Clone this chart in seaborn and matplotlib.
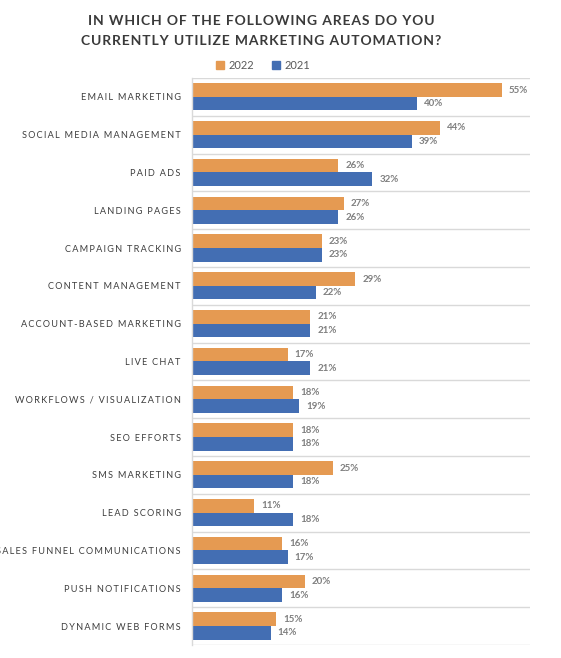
import numpy as np
import pandas as pd
import matplotlib
matplotlib.use("Agg")
import matplotlib.pyplot as plt
import seaborn as sns

# data
areas = [
    "EMAIL MARKETING", "SOCIAL MEDIA MANAGEMENT", "PAID ADS", "LANDING PAGES",
    "CAMPAIGN TRACKING", "CONTENT MANAGEMENT", "ACCOUNT-BASED MARKETING",
    "LIVE CHAT", "WORKFLOWS / VISUALIZATION", "SEO EFFORTS", "SMS MARKETING",
    "LEAD SCORING", "SALES FUNNEL COMMUNICATIONS", "PUSH NOTIFICATIONS",
    "DYNAMIC WEB FORMS",
]
pct_2022 = [55, 44, 26, 27, 23, 29, 21, 17, 18, 18, 25, 11, 16, 20, 15]
pct_2021 = [40, 39, 32, 26, 23, 22, 21, 21, 19, 18, 18, 18, 17, 16, 14]
years = ["2022", "2021"]
colors = {"2022": "#E59A52", "2021": "#436EB3"}

HS = "\u200a"  # hair space, used to fake letter spacing


def track(s, sep=HS):
    return sep.join(list(s))


df = pd.DataFrame({
    "area": areas * 2,
    "year": ["2022"] * len(areas) + ["2021"] * len(areas),
    "pct": pct_2022 + pct_2021,
})

sns.set_style("white")
plt.rcParams["font.family"] = ["Lato", "DejaVu Sans"]

fig = plt.figure(figsize=(5.61, 6.58), dpi=100)
ax = fig.add_axes([0.342, 0.0198, 0.603, 0.8617])

sns.barplot(data=df, y="area", x="pct", hue="year", hue_order=years,
            order=areas, palette=colors, orient="h", width=0.72,
            saturation=1, linewidth=0, ax=ax, legend=False)

ax.set_xlim(0, 60)
ax.set_ylim(len(areas) - 0.5, -0.5)
ax.set_xlabel("")
ax.set_ylabel("")
ax.set_xticks([])
ax.set_yticks(range(len(areas)))
ax.set_yticklabels([track(a, HS * 2) for a in areas], fontsize=6.6,
                   color="#3d3d3d")
ax.tick_params(axis="y", length=0, pad=8)

# separators between the groups
ax.set_yticks(np.arange(-0.5, len(areas), 1.0), minor=True)
ax.tick_params(axis="y", which="minor", length=0)
ax.grid(True, axis="y", which="minor", color="#d9d9d9", linewidth=1.0)
ax.grid(False, axis="y", which="major")
for side in ["top", "right", "bottom"]:
    ax.spines[side].set_visible(False)
ax.spines["left"].set_color("#d9d9d9")
ax.spines["left"].set_linewidth(1.0)

for cont in ax.containers:
    ax.bar_label(cont, labels=[f"{v:.0f}%" for v in cont.datavalues],
                 padding=5, fontsize=7.0, fontweight="bold", color="#7f7f7f")

# legend
handles = [plt.Rectangle((0, 0), 1, 1, color=colors[y]) for y in years]
fig.legend(handles, years, loc="center", bbox_to_anchor=(0.469, 0.900),
           ncol=2, frameon=False, fontsize=8, handlelength=0.75,
           handleheight=0.75, handletextpad=0.4, columnspacing=1.6,
           labelcolor="#595959")

title = track("IN WHICH OF THE FOLLOWING AREAS DO YOU") + "\n" + \
    track("CURRENTLY UTILIZE MARKETING AUTOMATION?")
fig.text(0.465, 0.953, title, ha="center", va="center", fontsize=10,
         fontweight="bold", color="#3a3a3a", linespacing=1.75)

fig.savefig("out.png", dpi=100)
